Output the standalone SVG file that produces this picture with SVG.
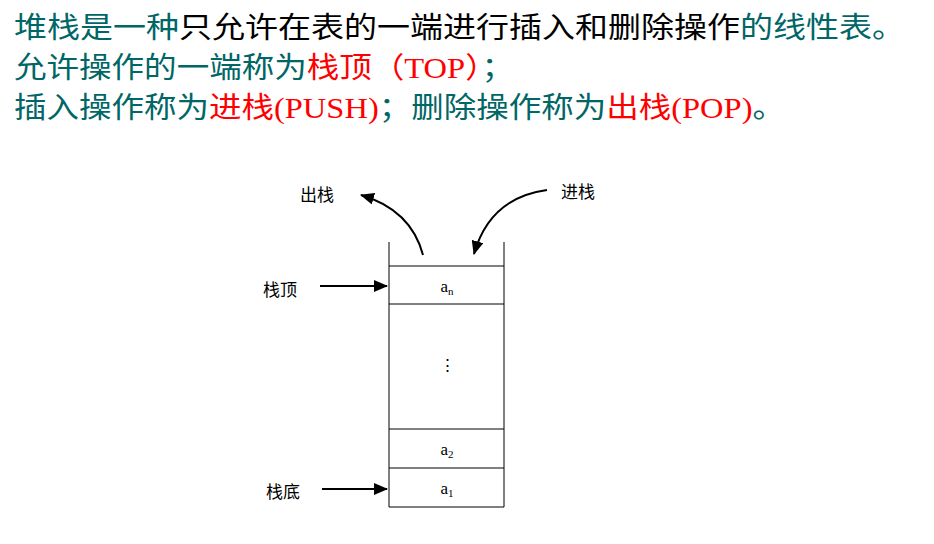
<svg xmlns="http://www.w3.org/2000/svg" width="934" height="544" viewBox="0 0 934 544">
<style>
.h{font-family:"Liberation Serif","Noto Sans CJK SC",serif;font-size:29px}
.t{fill:#006666}.k{fill:#000}.r{fill:#ff0000}
.l{font-family:"Noto Sans CJK SC",serif;font-size:17px;fill:#000}
.e{font-family:"Liberation Serif",serif;font-size:17px;fill:#000;text-anchor:middle}
.ln{stroke:#000;stroke-width:1;fill:none}
.ar{stroke:#000;stroke-width:2;fill:none}
</style>
<defs><marker id="m" markerWidth="14" markerHeight="12" refX="13" refY="6" orient="auto" markerUnits="userSpaceOnUse"><path d="M0,0 L14,6 L0,12 z" fill="#000"/></marker></defs>
<g id="header">
<text class="h" x="14" y="38" textLength="891" lengthAdjust="spacingAndGlyphs"><tspan class="t">堆栈是一种</tspan><tspan class="k">只允许在表的一端进行插入和删除操作</tspan><tspan class="t">的线性表。</tspan></text>
<text class="h" x="14" y="78" textLength="500" lengthAdjust="spacingAndGlyphs"><tspan class="t">允许操作的一端称为</tspan><tspan class="r">栈顶（TOP）</tspan><tspan class="t">；</tspan></text>
<text class="h" x="14" y="118" textLength="771" lengthAdjust="spacingAndGlyphs"><tspan class="t">插入操作称为</tspan><tspan class="r">进栈(PUSH)</tspan><tspan class="t">；删除操作称为</tspan><tspan class="r">出栈(POP)</tspan><tspan class="t">。</tspan></text>
</g>
<g id="stack">
<path class="ln" d="M389,242 V507 H504 V242"/>
<line class="ln" x1="389" y1="266" x2="504" y2="266"/>
<line class="ln" x1="389" y1="304" x2="504" y2="304"/>
<line class="ln" x1="389" y1="429" x2="504" y2="429"/>
<line class="ln" x1="389" y1="468" x2="504" y2="468"/>
<text class="e" x="447" y="292">a<tspan font-size="11" dy="3">n</tspan></text>
<text class="e" x="447" y="371">⋮</text>
<text class="e" x="447" y="455">a<tspan font-size="11" dy="3">2</tspan></text>
<text class="e" x="447" y="494">a<tspan font-size="11" dy="3">1</tspan></text>
</g>
<g id="labels">
<text class="l" x="300" y="201">出栈</text>
<text class="l" x="561" y="198">进栈</text>
<text class="l" x="263" y="296">栈顶</text>
<text class="l" x="266" y="498">栈底</text>
</g>
<g id="connectors">
<path class="ar" d="M423,255 C415,225 395,205 361,195" marker-end="url(#m)"/>
<path class="ar" d="M547,190 C510,195 485,215 474,254" marker-end="url(#m)"/>
<line class="ar" x1="320" y1="286" x2="387" y2="286" marker-end="url(#m)"/>
<line class="ar" x1="322" y1="489" x2="387" y2="489" marker-end="url(#m)"/>
</g>
</svg>
